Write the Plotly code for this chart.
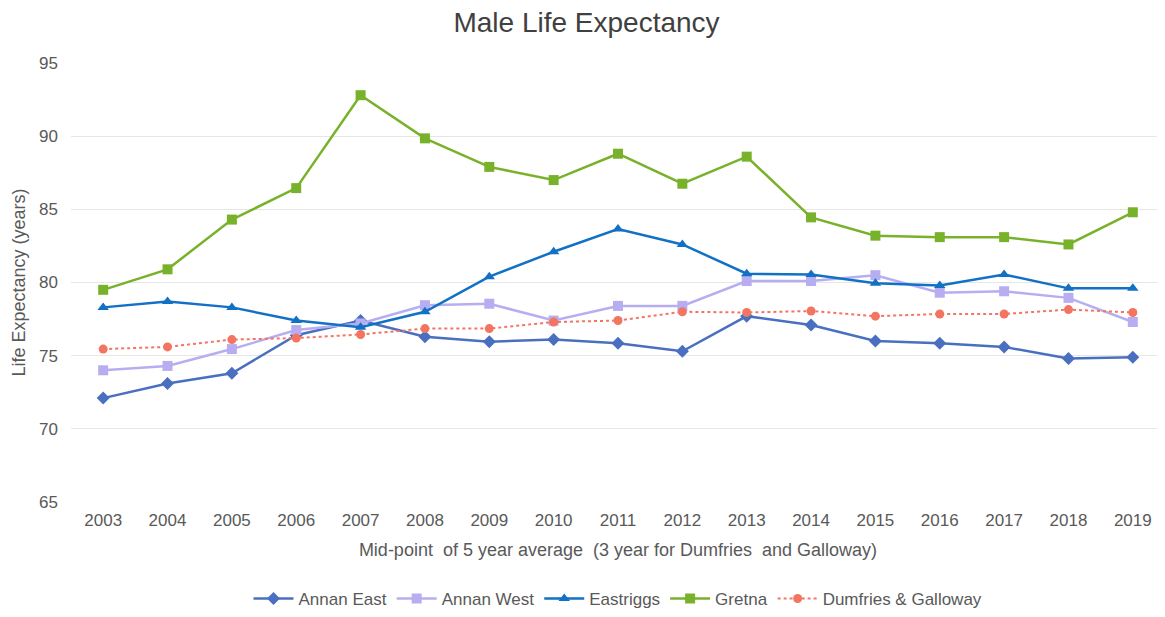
import plotly.graph_objects as go

years = [str(y) for y in range(2003, 2020)]

annan_east = [72.1, 73.1, 73.8, 76.4, 77.4, 76.3, 75.95, 76.1, 75.85, 75.3,
              77.7, 77.1, 76.0, 75.85, 75.6, 74.8, 74.9]
annan_west = [74.0, 74.3, 75.45, 76.75, 77.2, 78.45, 78.55, 77.4, 78.4, 78.4,
              80.1, 80.1, 80.5, 79.3, 79.4, 78.95, 77.3]
eastriggs = [78.3, 78.7, 78.3, 77.4, 76.95, 78.0, 80.4, 82.1, 83.65, 82.6,
             80.6, 80.55, 79.95, 79.8, 80.55, 79.6, 79.6]
gretna = [79.5, 80.9, 84.3, 86.45, 92.8, 89.85, 87.9, 87.0, 88.8, 86.75,
          88.6, 84.45, 83.2, 83.1, 83.1, 82.6, 84.8]
dumfries = [75.45, 75.6, 76.1, 76.2, 76.45, 76.85, 76.85, 77.3, 77.4, 78.0,
            77.95, 78.05, 77.7, 77.85, 77.85, 78.15, 77.95]

series = [
    ("Annan East", annan_east, "#4a6fc1", "diamond", 10, "solid", 2.5),
    ("Annan West", annan_west, "#b7aef2", "square", 10, "solid", 2.5),
    ("Eastriggs", eastriggs, "#1271c4", "triangle-up", 10, "solid", 2.5),
    ("Gretna", gretna, "#78b22a", "square", 10, "solid", 2.5),
    ("Dumfries & Galloway", dumfries, "#f47462", "circle", 9, "dot", 2),
]

fig = go.Figure()
for name, vals, color, sym, size, dash, width in series:
    fig.add_trace(go.Scatter(
        x=years, y=vals, name=name, mode="lines+markers",
        line=dict(color=color, width=width, dash=dash),
        marker=dict(symbol=sym, size=size, color=color),
    ))

# the page adds an 8px body margin, so the figure is a little smaller than the window
fig.update_layout(
    width=1157, height=609,
    paper_bgcolor="white", plot_bgcolor="white",
    font=dict(family="Liberation Sans, Arial, sans-serif", size=17, color="#595959"),
    title=dict(text="Male Life Expectancy", x=0.5, xanchor="center",
               y=0.977, yanchor="middle",
               font=dict(size=28, color="#404040")),
    margin=dict(l=63, r=0, t=55, b=114),
    legend=dict(orientation="h", x=0.5, xanchor="center", y=-0.2205, yanchor="middle",
                font=dict(size=17, color="#595959"), itemwidth=40),
)
fig.update_xaxes(
    type="category", range=[-0.5, 16.5], showgrid=False, ticks="", showline=False,
    automargin=False, ticklabelstandoff=6,
    title=dict(text="Mid-point  of 5 year average  (3 year for Dumfries  and Galloway)",
               standoff=14, font=dict(size=18)),
    tickfont=dict(size=17),
)
fig.update_yaxes(
    range=[65, 95], dtick=5, showgrid=True, gridcolor="#e6e6e6",
    zeroline=False, showline=False, ticks="", automargin=False,
    ticklabelstandoff=12,
    title=dict(text="Life Expectancy (years)", standoff=8, font=dict(size=18)),
    tickfont=dict(size=17),
)

fig.write_html("out.html")
